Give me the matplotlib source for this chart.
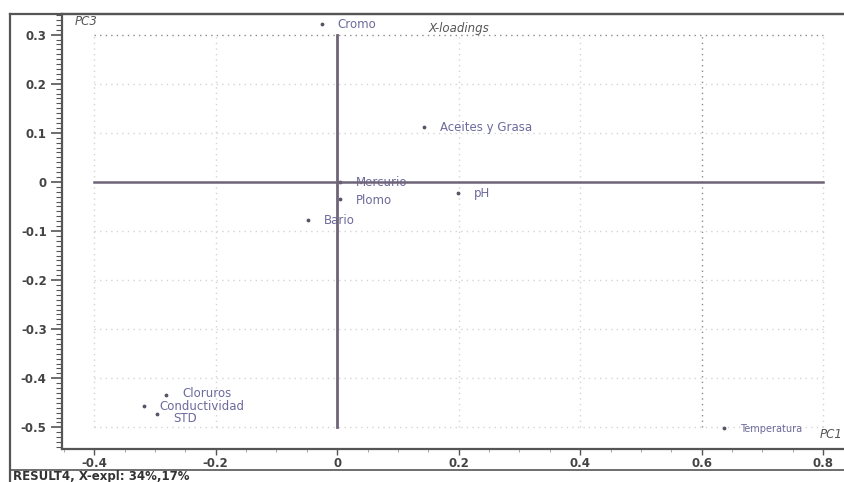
import matplotlib
matplotlib.use("Agg")
import matplotlib.pyplot as plt
from matplotlib.lines import Line2D
import numpy as np

# PCA X-loadings, PC1 vs PC3
variables = ["Cromo", "Aceites y Grasa", "pH", "Mercurio", "Plomo", "Bario",
             "Cloruros", "Conductividad", "STD", "Temperatura"]
pc1 = [-0.025, 0.143, 0.199, 0.004, 0.005, -0.048, -0.281, -0.318, -0.296, 0.637]
pc3 = [0.322, 0.112, -0.022, 0.000, -0.035, -0.077, -0.434, -0.456, -0.473, -0.502]

x_ticks = [-0.4, -0.2, 0.0, 0.2, 0.4, 0.6, 0.8]
x_tick_labels = ["-0.4", "-0.2", "0", "0.2", "0.4", "0.6", "0.8"]
y_ticks = [0.3, 0.2, 0.1, 0.0, -0.1, -0.2, -0.3, -0.4, -0.5]
y_tick_labels = ["0.3", "0.2", "0.1", "0", "-0.1", "-0.2", "-0.3", "-0.4", "-0.5"]

W, H = 845, 482
fig = plt.figure(figsize=(W / 100, H / 100), dpi=100)
fig.patch.set_facecolor("white")

def fx(px):
    return px / W

def fy(py):
    return 1 - py / H

ax = fig.add_axes([fx(62), fy(449), fx(845) - fx(62), fy(14) - fy(449)])
ax.set_xlim(-0.453, 0.836)
ax.set_ylim(-0.544, 0.342)

frame_col = "#555555"
for s in ["top", "bottom", "left"]:
    ax.spines[s].set_color(frame_col)
    ax.spines[s].set_linewidth(1.6)
ax.spines["right"].set_visible(False)

ax.set_xticks(x_ticks)
ax.set_xticklabels(x_tick_labels)
ax.set_yticks(y_ticks)
ax.set_yticklabels(y_tick_labels)
ax.set_yticks(np.round(np.arange(-0.54, 0.341, 0.01), 2), minor=True)
ax.set_xticks(np.round(np.arange(-0.45, 0.84, 0.05), 2), minor=True)
ax.tick_params(axis="y", which="major", length=8, width=1.2, color=frame_col,
               labelsize=8.5, labelcolor="#444444", pad=3)
ax.tick_params(axis="y", which="minor", length=4, width=0.8, color=frame_col)
ax.tick_params(axis="x", which="major", length=4, width=1.0, color=frame_col,
               labelsize=8.5, labelcolor="#444444", pad=2)
ax.tick_params(axis="x", which="minor", length=2, width=0.6, color="#999999")
for t in ax.get_xticklabels() + ax.get_yticklabels():
    t.set_fontweight("bold")

# dotted grid inside the data window
grid_x = [-0.4, -0.2, 0.2, 0.4, 0.6, 0.8]
grid_y = [0.3, 0.2, 0.1, -0.1, -0.2, -0.3, -0.4, -0.5]
for gx in grid_x:
    c = "#8a8a8a" if gx == 0.6 else "#d4d4d4"
    ax.plot([gx, gx], [-0.5, 0.3], linestyle=(0, (1, 3)), color=c, lw=1.0, zorder=1)
for gy in grid_y:
    c = "#8a8a8a" if gy == 0.3 else "#d4d4d4"
    ax.plot([-0.4, 0.8], [gy, gy], linestyle=(0, (1, 3)), color=c, lw=1.0, zorder=1)

# loadings and their labels (small vertical nudges in the crowded corner)
label_dy = {"Cloruros": 0.006, "STD": -0.007}
lab_col = "#6b6a9c"
ax.scatter(pc1, pc3, s=3, color="#555566", zorder=3)
for name, x, y in zip(variables, pc1, pc3):
    size = 7 if name == "Temperatura" else 8.5
    ax.text(x + 0.026, y - 0.002 + label_dy.get(name, 0.0), name, fontsize=size,
            color=lab_col, va="center", ha="left", zorder=2)

# origin axes drawn over the labels
ax.plot([0, 0], [-0.5, 0.3], color="#6e6478", lw=2.0, zorder=4)
ax.plot([-0.4, 0.8], [0, 0], color="#6e6478", lw=1.8, zorder=4)

ax.text(-0.432, 0.327, "PC3", fontsize=8.5, style="italic", color="#555555",
        va="center", ha="left")
ax.text(0.15, 0.312, "X-loadings", fontsize=8.5, style="italic", color="#555555",
        va="center", ha="left")
ax.text(0.795, -0.514, "PC1", fontsize=8.5, style="italic", color="#555555",
        va="center", ha="left")

# outer window frame and status bar
fig.add_artist(Line2D([fx(10), fx(10)], [fy(14), fy(482)], color=frame_col, lw=1.6))
fig.add_artist(Line2D([fx(10), fx(845)], [fy(14), fy(14)], color=frame_col, lw=1.6))
fig.add_artist(Line2D([fx(10), fx(845)], [fy(470), fy(470)], color=frame_col, lw=1.2))
fig.text(fx(13), fy(476.5), "RESULT4, X-expl: 34%,17%", fontsize=8.5, color="#333333",
         fontweight="bold", va="center", ha="left")

fig.savefig("out.png", dpi=100)
